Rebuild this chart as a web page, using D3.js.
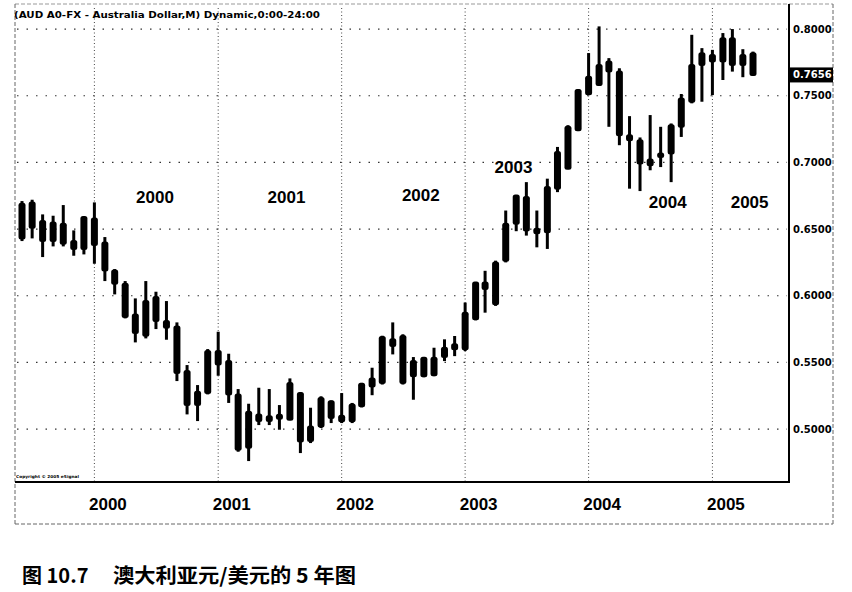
<!DOCTYPE html>
<html><head><meta charset="utf-8">
<script src="https://cdn.jsdelivr.net/npm/d3@7"></script>
<style>html,body{margin:0;padding:0;background:#fff;} svg{display:block;}</style>
</head><body>
<svg id="chart" width="852" height="592"></svg>
<script>
// ---- DATA (monthly AUD/USD candles) ----
const months = ["1999-06","1999-07","1999-08","1999-09","1999-10","1999-11","1999-12",
"2000-01","2000-02","2000-03","2000-04","2000-05","2000-06","2000-07","2000-08","2000-09","2000-10","2000-11","2000-12",
"2001-01","2001-02","2001-03","2001-04","2001-05","2001-06","2001-07","2001-08","2001-09","2001-10","2001-11","2001-12",
"2002-01","2002-02","2002-03","2002-04","2002-05","2002-06","2002-07","2002-08","2002-09","2002-10","2002-11","2002-12",
"2003-01","2003-02","2003-03","2003-04","2003-05","2003-06","2003-07","2003-08","2003-09","2003-10","2003-11","2003-12",
"2004-01","2004-02","2004-03","2004-04","2004-05","2004-06","2004-07","2004-08","2004-09","2004-10","2004-11","2004-12",
"2005-01","2005-02","2005-03","2005-04","2005-05"];
const openV = [0.643,0.670,0.656,0.641,0.654,0.641,0.635,
0.658,0.640,0.619,0.609,0.586,0.570,0.599,0.581,0.577,0.5435,0.518,0.527,
0.5585,0.551,0.526,0.486,0.511,0.506,0.5108,0.507,0.527,0.491,0.502,0.5209,
0.510,0.5058,0.5171,0.532,0.5346,0.5673,0.5698,0.5397,0.5535,0.5404,0.554,0.5636,
0.5598,0.5824,0.6099,0.5937,0.6263,0.6539,0.674,0.6502,0.6476,0.6803,0.6953,0.7242,
0.7512,0.7581,0.7681,0.7681,0.7204,0.7166,0.6978,0.7041,0.7066,0.7267,0.7455,0.7731,
0.7806,0.7756,0.7932,0.7731,0.7819];
const highV = [0.671,0.672,0.661,0.660,0.668,0.649,0.659,
0.670,0.644,0.620,0.611,0.598,0.611,0.603,0.596,0.580,0.548,0.533,0.560,
0.573,0.5565,0.530,0.519,0.531,0.530,0.518,0.538,0.527,0.516,0.5246,0.5214,
0.527,0.5196,0.5346,0.546,0.570,0.580,0.5711,0.554,0.554,0.561,0.5673,0.5698,
0.5949,0.6099,0.6187,0.6263,0.6639,0.6752,0.6852,0.6639,0.6878,0.7116,0.7279,0.7548,
0.782,0.802,0.7782,0.7706,0.7347,0.7187,0.7355,0.7267,0.7292,0.7513,0.7957,0.7857,
0.7844,0.797,0.800,0.7849,0.7831];
const lowV = [0.641,0.643,0.629,0.637,0.637,0.630,0.631,
0.624,0.611,0.601,0.583,0.565,0.568,0.575,0.567,0.536,0.511,0.506,0.526,
0.540,0.5196,0.483,0.476,0.503,0.503,0.4995,0.507,0.482,0.4895,0.5008,0.5045,
0.5045,0.5045,0.5163,0.5254,0.5334,0.556,0.5334,0.522,0.5389,0.5397,0.551,0.5547,
0.5585,0.5816,0.5873,0.5924,0.625,0.6484,0.6451,0.6363,0.6351,0.6777,0.6953,0.7237,
0.7505,0.7573,0.7267,0.7129,0.6803,0.6785,0.6941,0.6965,0.6852,0.7191,0.7443,0.7455,
0.7505,0.7618,0.7681,0.7639,0.765];
const closeV = [0.669,0.651,0.641,0.655,0.639,0.635,0.659,
0.638,0.619,0.609,0.584,0.572,0.596,0.581,0.576,0.542,0.518,0.528,0.5585,
0.5485,0.526,0.4845,0.513,0.506,0.5096,0.5078,0.5346,0.4907,0.502,0.5233,0.5083,
0.5058,0.5184,0.5339,0.538,0.569,0.5623,0.5346,0.551,0.5397,0.5535,0.561,0.5598,
0.5873,0.6099,0.605,0.625,0.6539,0.6752,0.6489,0.6469,0.6815,0.7078,0.7267,0.7543,
0.7642,0.7731,0.7756,0.7204,0.7166,0.6991,0.7021,0.7066,0.7279,0.748,0.7731,0.7819,
0.7756,0.7932,0.7731,0.7806,0.7656];
const priceTicks = [0.5,0.55,0.6,0.65,0.7,0.75,0.8];
const lastPrice = 0.7656;
const yearTicks = ["2000","2001","2002","2003","2004","2005"];
const yearNotes = ["2000","2001","2002","2003","2004","2005"];
const titleText = "(AUD A0-FX - Australia Dollar,M) Dynamic,0:00-24:00";
const copyrightText = "Copyright © 2005 eSignal";
const captionNum = "图 10.7";
const captionText = "澳大利亚元/美元的 5 年图";

// ---- DRAWING ----
const parse = d3.timeParse("%Y-%m");
const data = months.map((m,i)=>({date:parse(m),o:openV[i],h:highV[i],l:lowV[i],c:closeV[i]}));
const svg = d3.select("#chart");
const L = 15, R = 789, T = 4, B = 482, OUTR = 833, OUTB = 524;

const x = d3.scaleTime().domain([parse("1999-06"), parse("2005-05")]).range([22, 753]);
const y = d3.scaleLinear().domain([0.4603, 0.8143]).range([B, 10]);

// frame (dashed outer)
const frame = svg.append("g").attr("stroke","#666").attr("stroke-width",1).attr("stroke-dasharray","4,2").attr("fill","none");
frame.append("line").attr("x1",L).attr("x2",OUTR).attr("y1",T).attr("y2",T).attr("stroke","#999");
frame.append("line").attr("x1",L).attr("x2",L).attr("y1",T).attr("y2",OUTB);
frame.append("line").attr("x1",OUTR).attr("x2",OUTR).attr("y1",T).attr("y2",OUTB);
frame.append("line").attr("x1",L).attr("x2",OUTR).attr("y1",OUTB).attr("y2",OUTB);

// horizontal dotted gridlines
svg.append("g").selectAll("line").data(priceTicks).join("line")
  .attr("x1",L+2).attr("x2",R-2).attr("y1",d=>y(d)).attr("y2",d=>y(d))
  .attr("stroke","#333").attr("stroke-width",1.2).attr("stroke-dasharray","1.5,8");

// vertical dotted gridlines at each year start
svg.append("g").selectAll("line").data(yearTicks).join("line")
  .attr("x1",d=>x(d3.timeParse("%Y")(d))).attr("x2",d=>x(d3.timeParse("%Y")(d)))
  .attr("y1",T+4).attr("y2",B)
  .attr("stroke","#444").attr("stroke-width",1).attr("stroke-dasharray","1,2.5");

// candles
const cg = svg.append("g").attr("fill","#000");
cg.selectAll("rect.w").data(data).join("rect").attr("class","w")
  .attr("x",d=>x(d.date)-1.5).attr("width",3)
  .attr("y",d=>y(d.h)).attr("height",d=>Math.max(1,y(d.l)-y(d.h)));
cg.selectAll("rect.b").data(data).join("rect").attr("class","b")
  .attr("x",d=>x(d.date)-3.5).attr("width",7).attr("rx",2.5)
  .attr("y",d=>y(Math.max(d.o,d.c))-1).attr("height",d=>Math.max(4,Math.abs(y(d.o)-y(d.c))+2));

// axes lines
svg.append("line").attr("x1",L).attr("x2",R+1).attr("y1",B).attr("y2",B).attr("stroke","#000").attr("stroke-width",2.2);
svg.append("line").attr("x1",R).attr("x2",R).attr("y1",T).attr("y2",B).attr("stroke","#000").attr("stroke-width",2);

// right price axis
const ya = svg.append("g").attr("transform",`translate(${R},0)`)
  .call(d3.axisRight(y).tickValues(priceTicks).tickFormat(d3.format(".4f")).tickSize(0).tickPadding(4));
ya.select(".domain").remove();
ya.selectAll("text").attr("font-family","DejaVu Sans").attr("font-weight","bold").attr("font-size","10px").attr("fill","#000");

// last price marker
const lp = svg.append("g");
lp.append("rect").attr("x",R+1).attr("y",y(lastPrice)-7.5).attr("width",OUTR-R-1).attr("height",15).attr("fill","#000");
lp.append("text").attr("x",R+4).attr("y",y(lastPrice)).attr("dy","0.35em")
  .attr("font-family","DejaVu Sans").attr("font-weight","bold").attr("font-size","10px").attr("fill","#fff").text(d3.format(".4f")(lastPrice));

// bottom year axis
const xa = svg.append("g").attr("transform",`translate(0,${B})`)
  .call(d3.axisBottom(x).tickValues(yearTicks.map(d=>d3.timeParse("%Y")(d))).tickFormat(d3.timeFormat("%Y")).tickSize(0).tickPadding(16));
xa.select(".domain").remove();
xa.selectAll("text").attr("dx","13").attr("font-family","Liberation Sans, Arial").attr("font-weight","bold").attr("font-size","17px").attr("fill","#000");

// in-plot year annotations (anchored in data coordinates)
const noteAnchors = [[new Date(2000,5,28),0.6695],[new Date(2001,6,22),0.6695],[new Date(2002,7,23),0.671],
                     [new Date(2003,4,24),0.692],[new Date(2004,7,22),0.6657],[new Date(2005,3,21),0.6657]];
svg.append("g").selectAll("text").data(yearNotes).join("text")
  .attr("x",(d,i)=>x(noteAnchors[i][0])).attr("y",(d,i)=>y(noteAnchors[i][1]))
  .attr("text-anchor","middle").attr("font-family","Liberation Sans, Arial").attr("font-weight","bold").attr("font-size","17px")
  .text(d=>d);

// title
svg.append("text").attr("x",14).attr("y",18).attr("font-family","DejaVu Sans").attr("font-weight","bold").attr("font-size","9.5px")
  .attr("textLength",306).attr("lengthAdjust","spacingAndGlyphs").text(titleText);

// copyright
svg.append("text").attr("x",16).attr("y",478).attr("font-family","DejaVu Sans").attr("font-weight","bold").attr("font-size","4px")
  .attr("textLength",63).attr("lengthAdjust","spacingAndGlyphs").text(copyrightText);

// caption
svg.append("text").attr("x",22).attr("y",583).attr("font-family","Noto Sans CJK SC").attr("font-weight","bold").attr("font-size","20px").text(captionNum);
svg.append("text").attr("x",113).attr("y",583).attr("font-family","Noto Sans CJK SC").attr("font-weight","bold").attr("font-size","20px")
  .attr("textLength",243).attr("lengthAdjust","spacingAndGlyphs").text(captionText);
</script>
</body></html>
